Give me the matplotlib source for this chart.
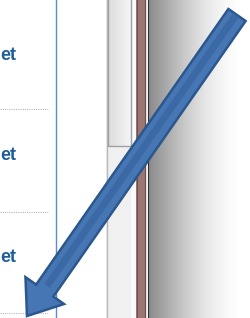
import numpy as np
import matplotlib
matplotlib.use("Agg")
import matplotlib.pyplot as plt
from matplotlib.patches import Rectangle, FancyArrow

# screenshot pieces (pixel coords, y down)
row_labels = ["et", "et", "et"]
row_label_y = [55, 156, 257]
divider_y = [109, 212, 313]
arrow_tail = [237, 15]
arrow_tip = [27, 316]

W, H = 250, 318
fig = plt.figure(figsize=(W / 100, H / 100), dpi=100)
ax = fig.add_axes([0, 0, 1, 1])
ax.set_xlim(0, W)
ax.set_ylim(H, 0)
ax.set_aspect("equal")
ax.axis("off")

# left panel
for lab, y in zip(row_labels, row_label_y):
    ax.text(0.5, y, lab, ha="left", va="center", fontsize=13,
            fontweight="bold", color="#1f5d99", family="Liberation Sans")
for y in divider_y:
    ax.plot([0, 48], [y, y], ls=(0, (1, 1)), lw=0.8, color="#b8b8b8")
ax.plot([55.5, 55.5], [0, H], color="#5b8bd0", lw=1.0)

# scrollbar
ax.add_patch(Rectangle((106, 0), 30, H, fc="#f0f0f0", ec="none"))
ax.plot([106.5, 106.5], [0, H], color="#b8b8b8", lw=1.0)
thumb = np.linspace(0.86, 0.96, 50).reshape(1, -1)
ax.imshow(thumb, extent=(108, 131, 146, 0), cmap="gray", vmin=0, vmax=1,
          aspect="auto", zorder=1)
ax.add_patch(Rectangle((108, -2), 23, 148, fc="none", ec="#a0a0a0", lw=1.0, zorder=2))
ax.add_patch(Rectangle((131, 0), 5, H, fc="#fafafa", ec="none"))

# brown divider
ax.add_patch(Rectangle((136, 0), 9, H, fc="#9b7673", ec="none"))
ax.plot([136.5, 136.5], [0, H], color="#6e5250", lw=0.8)
ax.plot([144.5, 144.5], [0, H], color="#6e5250", lw=0.8)
ax.add_patch(Rectangle((145, 0), 2, H, fc="#e8e8e8", ec="none"))
ax.plot([147.5, 147.5], [0, H], color="#303030", lw=0.8)

# grey to white shading
stops_x = [148, 165, 185, 205, 225, 240, 250]
stops_v = [0.54, 0.66, 0.79, 0.90, 0.97, 1.0, 1.0]
xs = np.linspace(148, 250, 200)
shade = np.interp(xs, stops_x, stops_v).reshape(1, -1)
ax.imshow(shade, extent=(148, 250, H, 0), cmap="gray", vmin=0, vmax=1,
          aspect="auto", zorder=1)

# arrow
dx = arrow_tip[0] - arrow_tail[0]
dy = arrow_tip[1] - arrow_tail[1]
ax.add_patch(FancyArrow(arrow_tail[0], arrow_tail[1], dx, dy, width=21,
                        head_width=47, head_length=31, length_includes_head=True,
                        fc="#4676b4", ec="#2b578c", lw=1.8, zorder=5))
ax.add_patch(FancyArrow(arrow_tail[0] - 1, arrow_tail[1], dx * 0.9, dy * 0.9,
                        width=7, head_width=7, head_length=0.1,
                        length_includes_head=True,
                        fc="#3b69a6", ec="none", zorder=6))

fig.savefig("out.png", dpi=100)
